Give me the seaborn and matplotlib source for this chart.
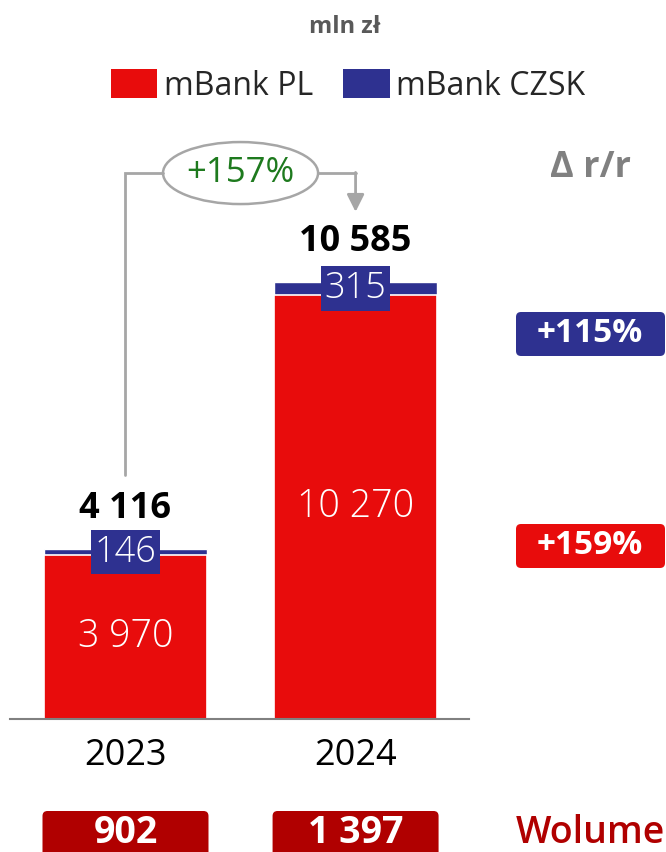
import matplotlib
matplotlib.use("Agg")
import matplotlib.pyplot as plt
import seaborn as sns
import pandas as pd
from matplotlib.patches import Ellipse, FancyBboxPatch, Patch

years = ["2023", "2024"]
mbank_pl = [3970, 10270]
mbank_czsk = [146, 315]
total_change = "+157%"
czsk_change = "+115%"
pl_change = "+159%"
volumes = [902, 1397]

RED = "#e80c0c"
BLUE = "#2e3190"
DARKRED = "#b00000"
GREY = "#a6a6a6"


def fmt(v):
    return f"{v:,}".replace(",", " ")


sns.set_theme(style="white")
plt.rcParams["font.family"] = ["Open Sans", "DejaVu Sans"]

df = pd.DataFrame({"year": years, "pl": mbank_pl, "czsk": mbank_czsk})
df["total"] = df["pl"] + df["czsk"]

fig = plt.figure(figsize=(6.66, 8.52), dpi=100)
ax = fig.add_axes([10 / 666, 133 / 852, 459 / 666, 589 / 852])

# stacked bars: total in blue, PL in red on top of it
sns.barplot(data=df, x="year", y="total", color=BLUE, width=0.71,
            saturation=1, ax=ax)
sns.barplot(data=df, x="year", y="pl", color=RED, width=0.71,
            saturation=1, edgecolor="white", linewidth=1.2, ax=ax)

ax.set_xlim(-0.502, 1.493)
ax.set_ylim(0, 14268)
ax.set_xlabel("")
ax.set_ylabel("")
ax.set_yticks([])
ax.tick_params(axis="x", length=0, labelsize=26, pad=14, colors="black")
for s in ["left", "right", "top"]:
    ax.spines[s].set_visible(False)
ax.spines["bottom"].set_color("#808080")
ax.spines["bottom"].set_linewidth(1.5)

for i, row in df.iterrows():
    ax.text(i, row.pl / 2, fmt(row.pl), color="white", fontsize=27,
            ha="center", va="center", fontweight="light")
    ax.text(i, row.pl + row.czsk / 2, fmt(row.czsk), color="white",
            fontsize=26, ha="center", va="center", fontweight="light",
            bbox=dict(boxstyle="square,pad=0.1", fc=BLUE, ec="none"))
    ax.text(i, row.total + 960, fmt(row.total), color="black", fontsize=26,
            ha="center", va="center", fontweight="bold")

# connector with growth bubble
yc = df["total"].max() + 2640
ax.plot([0, 0, 0.5 - 0.337], [df["total"][0] + 1800, yc, yc],
        color=GREY, lw=2, solid_joinstyle="miter")
ax.plot([0.5 + 0.337, 1], [yc, yc], color=GREY, lw=2)
ax.annotate("", xy=(1, df["total"][1] + 1700), xytext=(1, yc + 15),
            arrowprops=dict(arrowstyle="-|>", color=GREY, lw=2,
                            mutation_scale=26, shrinkA=0, shrinkB=0))
ax.add_patch(Ellipse((0.5, yc), 0.674, 1502, fc="white", ec=GREY, lw=1.8,
                     clip_on=False))
ax.text(0.5, yc, total_change, color="#1e7a1e", fontsize=25,
        ha="center", va="center")

# legend
handles = [Patch(fc=RED, ec="none"), Patch(fc=BLUE, ec="none")]
fig.legend(handles, ["mBank PL", "mBank CZSK"], loc="center",
           bbox_to_anchor=(348 / 666, 1 - 86 / 852), ncol=2, frameon=False,
           fontsize=23, handlelength=1.45, handleheight=1.0,
           handletextpad=0.2, columnspacing=0.95)

# overlay in pixel coordinates for the side annotations
fig.canvas.draw()
oax = fig.add_axes([0, 0, 1, 1])
oax.set_xlim(0, 666)
oax.set_ylim(852, 0)
oax.axis("off")
oax.patch.set_alpha(0)

oax.text(345, 27, "mln zł", color="#595959", fontsize=17, fontweight="bold",
         ha="center", va="center")
oax.text(590, 168, "Δ r/r", color="#808080", fontsize=26, fontweight="bold",
         ha="center", va="center")

for yy, col, txt in [(334, BLUE, czsk_change), (546, RED, pl_change)]:
    oax.add_patch(FancyBboxPatch((516, yy - 22), 149, 44,
                                 boxstyle="round,pad=0,rounding_size=5",
                                 fc=col, ec="none"))
    oax.text(590, yy, txt, color="white", fontsize=24, fontweight="bold",
             ha="center", va="center")

for i, v in enumerate(volumes):
    xpx = ax.transData.transform((i, 0))[0]
    oax.add_patch(FancyBboxPatch((xpx - 83, 811), 166, 60,
                                 boxstyle="round,pad=0,rounding_size=5",
                                 fc=DARKRED, ec="none"))
    oax.text(xpx, 833, fmt(v), color="white", fontsize=27, fontweight="bold",
             ha="center", va="center")
oax.text(516, 833, "Wolumen", color=DARKRED, fontsize=27, fontweight="semibold",
         ha="left", va="center")

fig.savefig("out.png", dpi=100)
